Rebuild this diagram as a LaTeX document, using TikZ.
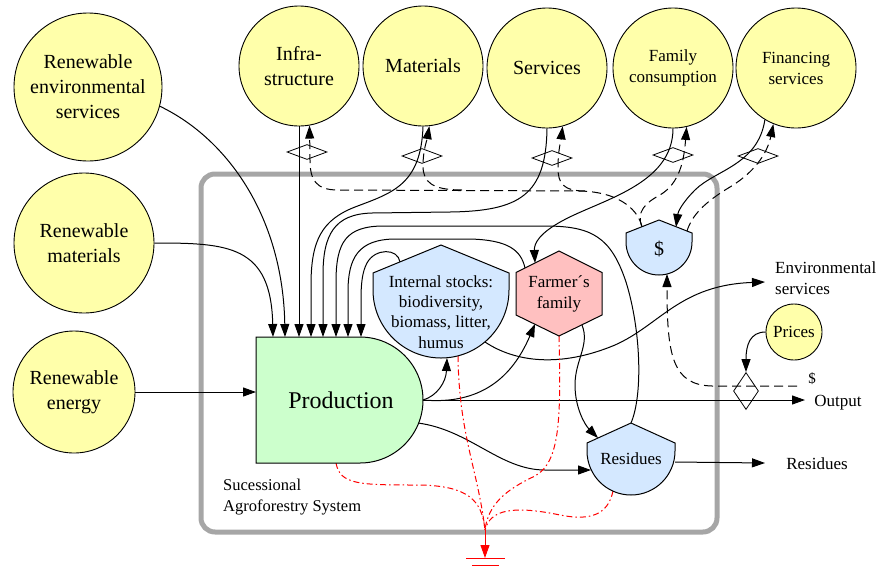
\documentclass[tikz,border=0pt]{standalone}
\usepackage{fontspec}
\setmainfont{Liberation Serif}
\usetikzlibrary{arrows.meta,shapes.geometric}
\definecolor{srcY}{RGB}{255,255,170}
\definecolor{prodG}{RGB}{204,255,204}
\definecolor{stockB}{RGB}{212,232,255}
\definecolor{famP}{RGB}{255,192,192}
\definecolor{bndG}{RGB}{166,166,166}
\newcommand{\fBig}{\fontsize{20}{25}\selectfont}
\newcommand{\fMid}{\fontsize{17}{21}\selectfont}
\newcommand{\fStk}{\fontsize{17}{20.3}\selectfont}
\newcommand{\fProd}{\fontsize{24}{28}\selectfont}
\tikzset{
  src/.style={circle, draw, line width=0.9pt, fill=srcY, inner sep=0pt, align=center},
  flow/.style={line width=1pt, -{Triangle[length=13pt,width=9pt]}},
  plain/.style={line width=1pt},
  money/.style={line width=1pt, dash pattern=on 9pt off 5pt},
  heat/.style={red, line width=1pt, dash pattern=on 6pt off 3pt on 1.5pt off 3pt},
  xdiam/.style={diamond, draw, line width=0.8pt, inner sep=0pt},
  shp/.style={draw, line width=1pt},
  lbl/.style={inner sep=0pt, align=center}
}
\begin{document}
\begin{tikzpicture}[x=1pt,y=-1pt]
\useasboundingbox (0,0) rectangle (881,571);

% system boundary
\draw[bndG, line width=5pt, rounded corners=14pt] (201,174) rectangle (717,532);

% coordinates on custom shapes
\coordinate (prodW) at (256,392);
\coordinate (prodE) at (423,400);
\coordinate (prodSE) at (418,423);
\coordinate (prodS) at (336,463);
\foreach \i/\x in {1/273,2/285,3/299,4/311,5/323,6/336,7/348,8/361}
  \coordinate (pin\i) at (\x,337);
\coordinate (stkNW) at (400,262);
\coordinate (stkS) at (447,358);
\coordinate (stkSE) at (485,342);
\coordinate (stkB) at (458,356);
\coordinate (farNW) at (525,268);
\coordinate (farN) at (535,263);
\coordinate (farSW) at (535,324);
\coordinate (farSE) at (582,325);
\coordinate (farS) at (559,336);
\coordinate (dolNW) at (642,227);
\coordinate (dolNE1) at (676,227);
\coordinate (dolNE2) at (687,231);
\coordinate (dolS) at (667,274);
\coordinate (resN) at (631,423);
\coordinate (resNW) at (598,438);
\coordinate (resW) at (591,470);
\coordinate (resE) at (675,462);
\coordinate (resS) at (613,491);
\coordinate (outEnd) at (805,400);
\coordinate (envEnd) at (765,282);
\coordinate (resEnd) at (765,463);
\coordinate (dstart) at (797,386);
\coordinate (mj) at (462,190);
\coordinate (sj) at (585,191);
\coordinate (gnd) at (485,530);
\coordinate (gndA) at (485,558);
\coordinate (g1l) at (466,558);
\coordinate (g1r) at (505,558);
\coordinate (g2l) at (472,565);
\coordinate (g2r) at (499,565);

% sources
\node[src, minimum size=148pt, font=\fBig] (env) at (88,87) {Renewable\\environmental\\services};
\node[src, minimum size=140pt, font=\fBig] (rmat) at (84,243) {Renewable\\materials};
\node[src, minimum size=122pt, font=\fBig] (ren) at (74,392) {Renewable\\energy};
\node[src, minimum size=120pt, font=\fBig] (infra) at (299,66) {Infra-\\structure};
\node[src, minimum size=120pt, font=\fBig] (mats) at (423,66) {Materials};
\node[src, minimum size=120pt, font=\fBig] (serv) at (547,68) {Services};
\node[src, minimum size=120pt, font=\fMid] (famc) at (673,68) {Family\\consumption};
\node[src, minimum size=120pt, font=\fMid] (fin) at (796,68) {Financing\\services};
\node[src, minimum size=56pt, font=\fMid] (prices) at (794,332) {Prices};

% diamonds
\node[xdiam, minimum width=40pt, minimum height=15pt] (d1) at (307,152) {};
\node[xdiam, minimum width=40pt, minimum height=15pt] (d2) at (422,156) {};
\node[xdiam, minimum width=40pt, minimum height=15pt] (d3) at (552,158) {};
\node[xdiam, minimum width=40pt, minimum height=15pt] (d4) at (673,155) {};
\node[xdiam, minimum width=40pt, minimum height=15pt] (d5) at (758,156) {};
\node[xdiam, minimum width=25pt, minimum height=37pt] (pd) at (746,391) {};

% inputs to production
\draw[flow] (env.-15) .. controls (230,140) and (283,220) .. (pin2);
\draw[flow] (rmat.east) .. controls (228,243) and (271,245) .. (pin1);
\draw[flow] (ren.east) -- (prodW);
\draw[flow] (infra.south) -- (pin3);
\draw[flow] (mats.south) .. controls (421,185) and (392,193) .. (355,207) .. controls (322,220) and (311,240) .. (311,285) -- (pin4);
\draw[flow] (serv.south) .. controls (546,195) and (520,211) .. (450,212) -- (372,213) .. controls (334,214) and (323,235) .. (323,275) -- (pin5);
\draw[flow] (resN) .. controls (643,395) and (641,330) .. (626,282) .. controls (611,237) and (592,226) .. (545,226) -- (384,226) .. controls (346,226) and (336,242) .. (336,282) -- (pin6);
\draw[flow] (farNW) .. controls (521,250) and (508,240) .. (470,239) -- (396,239) .. controls (358,239) and (348,258) .. (348,292) -- (pin7);
\draw[flow] (stkNW) .. controls (398,248) and (375,248) .. (367,263) .. controls (362,272) and (361,285) .. (361,300) -- (pin8);

% family consumption, financing
\draw[flow] (famc.south) .. controls (673,185) and (600,200) .. (562,221) .. controls (540,233) and (534,243) .. (farN);
\draw[flow] (fin.-121) .. controls (758,165) and (715,170) .. (695,190) .. controls (682,203) and (678,212) .. (dolNE1);

% money flows
\draw[money, -{Triangle[length=13pt,width=9pt]}] (dolNW) .. controls (639,212) and (622,192) .. (580,191) -- (338,190) .. controls (316,190) and (310,180) .. (310,160) -- (infra.-80);
\draw[money, -{Triangle[length=13pt,width=9pt]}] (mj) .. controls (432,190) and (423,182) .. (423,166) .. controls (423,150) and (427,140) .. (mats.-84);
\draw[money, -{Triangle[length=13pt,width=9pt]}] (sj) .. controls (563,191) and (558,183) .. (558,168) .. controls (558,150) and (561,140) .. (serv.-75);
\draw[money, -{Triangle[length=13pt,width=9pt]}] (dolNW) .. controls (636,212) and (645,203) .. (660,195) .. controls (680,183) and (684,160) .. (famc.-77);
\draw[money, -{Triangle[length=13pt,width=9pt]}] (dolNE2) .. controls (692,215) and (705,202) .. (730,187) .. controls (758,170) and (768,150) .. (fin.-112);
\draw[money, -{Triangle[length=13pt,width=9pt]}] (dstart) -- (712,386) .. controls (672,385) and (667,355) .. (dolS);
\draw[flow] (prices.west) .. controls (750,332) and (746,345) .. (pd.north);

% outputs of production
\draw[flow] (prodE) .. controls (437,396) and (446,382) .. (stkS);
\draw[flow] (prodE) .. controls (480,405) and (512,378) .. (farSW);
\draw[flow] (prodE) -- (outEnd);
\draw[flow] (prodSE) .. controls (470,430) and (500,470) .. (545,470) -- (resW);
\draw[flow] (stkSE) .. controls (515,362) and (560,368) .. (615,345) .. controls (660,325) and (680,285) .. (envEnd);
\draw[flow] (farSE) .. controls (590,345) and (575,360) .. (575,385) .. controls (575,408) and (585,425) .. (resNW);
\draw[flow] (resE) -- (resEnd);

% heat sinks
\draw[heat] (prodS) .. controls (340,485) and (360,485) .. (420,485) .. controls (468,486) and (482,500) .. (gnd);
\draw[heat] (stkB) .. controls (459,435) and (478,470) .. (gnd);
\draw[heat] (farS) .. controls (561,420) and (560,462) .. (535,476) .. controls (505,490) and (488,505) .. (gnd);
\draw[heat] (resS) .. controls (608,515) and (590,521) .. (560,515) .. controls (512,505) and (490,510) .. (gnd);
\draw[red, line width=1pt, -{Triangle[length=13pt,width=9pt]}] (gnd) -- (gndA);
\draw[red, line width=1pt] (g1l) -- (g1r);
\draw[red, line width=1pt] (g2l) -- (g2r);

% shapes
\path[shp, fill=prodG] (256,337) -- (360,337) arc[start angle=-90, end angle=90, radius=63] -- (256,463) -- cycle;
\path[shp, fill=stockB] (441,245) -- (509,273) -- (509,290) arc[start angle=0, end angle=180, radius=68] -- (373,273) -- cycle;
\path[shp, fill=famP] (559,251) -- (602,272.5) -- (602,315) -- (559,336) -- (516,315) -- (516,272.5) -- cycle;
\path[shp, fill=stockB] (659,220) -- (692,233) -- (692,242) arc[start angle=0, end angle=180, radius=33] -- (626,233) -- cycle;
\path[shp, fill=stockB] (631,423) -- (675,443) -- (675,451) arc[start angle=0, end angle=180, radius=44] -- (587,443) -- cycle;

% texts
\node[lbl, font=\fProd] (prodT) at (341,400) {Production};
\node[lbl, font=\fStk] (stkT) at (441,312) {Internal stocks:\\biodiversity,\\biomass, litter,\\humus};
\node[lbl, font=\fMid] (farT) at (559,294) {Farmer´s\\family};
\node[lbl, font=\fBig] (dolT) at (659,249) {\$};
\node[lbl, font=\fMid] (resT) at (631,459) {Residues};
\node[lbl, font=\fMid, anchor=west, align=left] (envLbl) at (775,278) {Environmental\\services};
\node[lbl, font=\fMid] (outLbl) at (838,403) {Output};
\node[lbl, font=\fMid] (resLbl) at (817,464) {Residues};
\node[lbl, font=\fontsize{15}{18}\selectfont] (dLbl) at (812,379) {\$};
\node[lbl, font=\fontsize{16.5}{21}\selectfont, anchor=west, align=left] (safLbl) at (223,497) {Sucessional\\Agroforestry System};
\end{tikzpicture}
\end{document}
